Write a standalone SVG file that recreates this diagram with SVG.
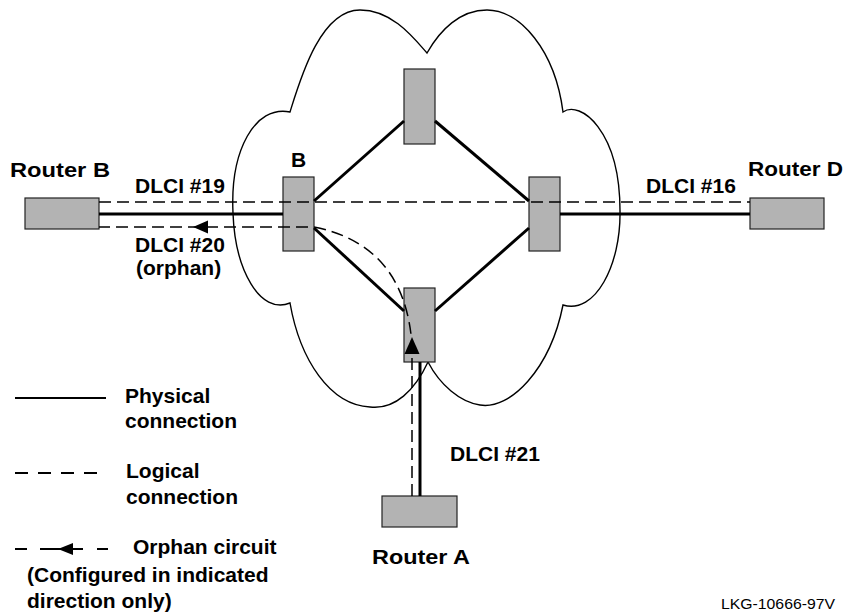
<svg xmlns="http://www.w3.org/2000/svg" width="850" height="612" viewBox="0 0 850 612">
<defs>
<style>
.box{fill:#b3b3b3;stroke:#222;stroke-width:1.2}
.phys{fill:none;stroke:#000;stroke-width:3}
.logi{fill:none;stroke:#000;stroke-width:1.5;stroke-dasharray:12 6}
.cloud{fill:none;stroke:#000;stroke-width:1.4}
.lbl{font-family:"Liberation Sans",Arial,Helvetica,sans-serif;font-weight:bold;font-size:21px;fill:#000}
.small{font-family:"Liberation Sans",Arial,Helvetica,sans-serif;font-size:15px;fill:#000}
.head{fill:#000;stroke:none}
</style>
</defs>
<rect width="850" height="612" fill="#fff"/>

<g id="cloud">
<path class="cloud" d="M290,112 C300,80 320,10 360,10 C392,10 413,37 427,53 C440,30 460,10 487,10 C520,10 555,50 563,112 C580,100 620,130 620,211 C621,265 595,315 563,305 C550,370 510,410 480,405 C460,402 440,385 428,362 C415,390 395,410 370,407 C330,405 300,360 290,303 C260,315 235,270 233,213 C230,150 255,105 290,112 Z"/>
</g>

<g id="router-b"><rect class="box" x="25" y="198" width="74" height="31"/></g>
<g id="router-d"><rect class="box" x="750" y="198" width="74" height="31"/></g>
<g id="router-a"><rect class="box" x="382" y="496" width="75" height="31"/></g>
<g id="switch-b"><rect class="box" x="283" y="177" width="31" height="74"/></g>
<g id="switch-top"><rect class="box" x="404" y="69" width="31" height="75"/></g>
<g id="switch-right"><rect class="box" x="529" y="177" width="31" height="74"/></g>
<g id="switch-bottom"><rect class="box" x="404" y="288" width="31" height="74"/></g>

<g id="connectors">
<line class="phys" x1="99" y1="214" x2="283" y2="214"/>
<line class="phys" x1="560" y1="214" x2="750" y2="214"/>
<line class="phys" x1="314" y1="201" x2="404" y2="121"/>
<line class="phys" x1="435" y1="121" x2="529" y2="201"/>
<line class="phys" x1="314" y1="228" x2="404" y2="311"/>
<line class="phys" x1="435" y1="311" x2="529" y2="228"/>
<line class="phys" x1="420" y1="362" x2="420" y2="496"/>
<line class="logi" x1="99" y1="202" x2="750" y2="202"/>
<path class="logi" d="M412,496 L412,345 Q405,245 314,227 L99,227"/>
<polygon class="head" points="193,227 208,220.5 208,233.5"/>
<polygon class="head" points="412,337 404.5,354 419.5,354"/>
</g>

<g id="labels">
<text class="lbl" x="10" y="177" textLength="100" lengthAdjust="spacingAndGlyphs">Router B</text>
<text class="lbl" x="748" y="176" textLength="95" lengthAdjust="spacingAndGlyphs">Router D</text>
<text class="lbl" x="372" y="564" textLength="98" lengthAdjust="spacingAndGlyphs">Router A</text>
<text class="lbl" x="291" y="167">B</text>
<text class="lbl" x="135" y="193">DLCI #19</text>
<text class="lbl" x="135" y="252">DLCI #20</text>
<text class="lbl" x="136" y="275">(orphan)</text>
<text class="lbl" x="646" y="193">DLCI #16</text>
<text class="lbl" x="450" y="461">DLCI #21</text>
<text class="small" x="721" y="609" textLength="114" lengthAdjust="spacingAndGlyphs">LKG-10666-97V</text>
</g>

<g id="legend">
<line x1="15" y1="398" x2="106" y2="398" stroke="#000" stroke-width="2"/>
<text class="lbl" x="125" y="403">Physical</text>
<text class="lbl" x="125" y="428">connection</text>
<line x1="15" y1="473" x2="106" y2="473" stroke="#000" stroke-width="2" stroke-dasharray="13 10"/>
<text class="lbl" x="126" y="478">Logical</text>
<text class="lbl" x="126" y="504">connection</text>
<line x1="15" y1="549" x2="27" y2="549" stroke="#000" stroke-width="2"/>
<line x1="40" y1="549" x2="83" y2="549" stroke="#000" stroke-width="2"/>
<line x1="97" y1="549" x2="108" y2="549" stroke="#000" stroke-width="2"/>
<polygon class="head" points="58,549 73,543 73,555"/>
<text class="lbl" x="133" y="554">Orphan circuit</text>
<text class="lbl" x="27" y="582">(Configured in indicated</text>
<text class="lbl" x="27" y="608">direction only)</text>
</g>
</svg>
